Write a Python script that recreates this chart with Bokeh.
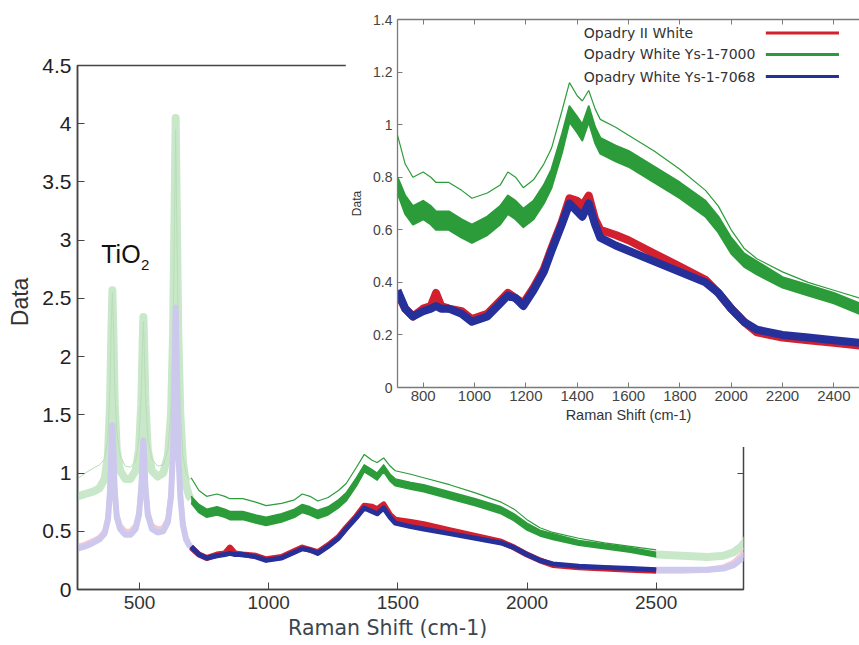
from bokeh.plotting import figure
from bokeh.models import (LinearAxis, FixedTicker, NumeralTickFormatter, Range1d, Label,
                          CustomLabelingPolicy)
from bokeh.embed import file_html
from bokeh.resources import INLINE

# ---------------- data ----------------
# TiO2 region (drawn faded in the main chart)
TIO2_X = [260, 290, 320, 345, 365, 378, 386, 391, 395, 399,
          404, 412, 425, 445, 465, 485, 498, 507, 512, 515,
          518, 523, 532, 548, 570, 592, 610, 622, 630, 636,
          640, 644, 650, 658, 668, 680, 692, 700]
GREEN_TIO2 = [0.80, 0.82, 0.84, 0.87, 0.95, 1.15, 1.6, 2.2, 2.57, 2.2,
              1.6, 1.2, 1.02, 0.95, 0.95, 1.02, 1.2, 1.6, 2.1, 2.34,
              2.1, 1.6, 1.2, 1.02, 0.97, 1.0, 1.15, 1.5, 2.2, 3.3,
              4.05, 3.3, 2.2, 1.5, 1.1, 0.9, 0.8, 0.78]
GREEN_TIO2_TOP = [0.95, 1.0, 1.04, 1.07, 1.12, 1.3, 1.75, 2.3, 2.55, 2.3,
                  1.75, 1.35, 1.15, 1.06, 1.05, 1.1, 1.3, 1.7, 2.1, 2.3,
                  2.1, 1.7, 1.3, 1.12, 1.06, 1.07, 1.2, 1.55, 2.2, 3.2,
                  3.95, 3.2, 2.2, 1.55, 1.15, 1.0, 0.95, 0.95]
RED_TIO2 = [0.37, 0.39, 0.42, 0.45, 0.5, 0.63, 0.88, 1.22, 1.38, 1.22,
            0.88, 0.65, 0.55, 0.5, 0.5, 0.55, 0.67, 0.9, 1.15, 1.26,
            1.15, 0.9, 0.67, 0.55, 0.52, 0.53, 0.61, 0.83, 1.22, 1.82,
            2.36, 1.82, 1.22, 0.83, 0.58, 0.45, 0.39, 0.36]
BLUE_TIO2 = [0.35, 0.37, 0.40, 0.43, 0.48, 0.6, 0.85, 1.2, 1.41, 1.2,
             0.85, 0.62, 0.52, 0.47, 0.47, 0.52, 0.64, 0.88, 1.15, 1.28,
             1.15, 0.88, 0.64, 0.52, 0.49, 0.50, 0.58, 0.8, 1.2, 1.85,
             2.42, 1.85, 1.2, 0.8, 0.55, 0.43, 0.38, 0.37]

# Fingerprint region 700-2500 (main chart and inset)
MID_X = [700, 730, 760, 800, 830, 850, 870, 900, 950, 990,
         1050, 1100, 1130, 1160, 1190, 1230, 1270, 1300, 1340, 1370,
         1400, 1420, 1445, 1470, 1490, 1550, 1600, 1700, 1800, 1900,
         1950, 2000, 2050, 2100, 2200, 2300, 2400, 2500]
# Opadry White Ys-1-7000: band of replicate spectra (upper / lower edge) and the highest replicate
GREEN_MID_HI = [0.80, 0.73, 0.69, 0.71, 0.69, 0.67, 0.67, 0.67, 0.64, 0.62,
                0.65, 0.69, 0.73, 0.71, 0.68, 0.71, 0.77, 0.83, 0.96, 1.07,
                1.03, 1.00, 1.07, 0.99, 0.95, 0.92, 0.90, 0.84, 0.78, 0.71,
                0.65, 0.57, 0.51, 0.48, 0.42, 0.39, 0.36, 0.32]
GREEN_MID_LO = [0.74, 0.66, 0.62, 0.64, 0.62, 0.60, 0.60, 0.60, 0.57, 0.55,
                0.58, 0.62, 0.66, 0.64, 0.61, 0.64, 0.70, 0.76, 0.89, 1.01,
                0.97, 0.94, 1.01, 0.93, 0.89, 0.86, 0.84, 0.78, 0.72, 0.65,
                0.59, 0.51, 0.46, 0.43, 0.38, 0.35, 0.32, 0.28]
GREEN_MID_TOP = [0.96, 0.85, 0.80, 0.82, 0.80, 0.78, 0.78, 0.78, 0.75, 0.72,
                 0.74, 0.77, 0.82, 0.80, 0.76, 0.79, 0.85, 0.91, 1.05, 1.16,
                 1.11, 1.09, 1.13, 1.06, 1.02, 0.99, 0.96, 0.90, 0.83, 0.75,
                 0.69, 0.60, 0.53, 0.49, 0.44, 0.40, 0.37, 0.34]
RED_MID = [0.36, 0.30, 0.27, 0.30, 0.31, 0.36, 0.31, 0.30, 0.29, 0.26,
           0.28, 0.33, 0.36, 0.34, 0.32, 0.38, 0.45, 0.53, 0.63, 0.72,
           0.71, 0.69, 0.73, 0.64, 0.60, 0.58, 0.56, 0.51, 0.46, 0.41,
           0.36, 0.30, 0.25, 0.21, 0.19, 0.18, 0.17, 0.16]
BLUE_MID = [0.37, 0.30, 0.27, 0.29, 0.30, 0.31, 0.30, 0.30, 0.28, 0.25,
            0.27, 0.32, 0.35, 0.34, 0.31, 0.37, 0.44, 0.52, 0.62, 0.70,
            0.67, 0.65, 0.70, 0.62, 0.57, 0.54, 0.52, 0.48, 0.44, 0.40,
            0.36, 0.30, 0.25, 0.22, 0.20, 0.19, 0.18, 0.17]

# High-shift tail (faded)
END_X = [2500, 2600, 2700, 2760, 2800, 2830, 2850, 2870]
GREEN_END = [0.30, 0.29, 0.28, 0.29, 0.32, 0.37, 0.43, 0.50]
RED_END = [0.16, 0.16, 0.17, 0.19, 0.23, 0.29, 0.35, 0.42]
BLUE_END = [0.17, 0.17, 0.17, 0.18, 0.21, 0.26, 0.31, 0.37]

MAIN_Y_TICKS = [0, 0.5, 1, 1.5, 2, 2.5, 3, 3.5, 4, 4.5]
MAIN_X_TICKS = [500, 1000, 1500, 2000, 2500]
INSET_Y_TICKS = [0, 0.2, 0.4, 0.6, 0.8, 1.0, 1.2, 1.4]
INSET_X_TICKS = [800, 1000, 1200, 1400, 1600, 1800, 2000, 2200, 2400]
SERIES_NAMES = ["Opadry II White", "Opadry White Ys-1-7000", "Opadry White Ys-1-7068"]

# ---------------- styles ----------------
GREEN = "#2c9c3a"
RED = "#d2202e"
BLUE = "#26309a"
F_GREEN = "#c9e8c9"
F_RED = "#f1cad7"
F_BLUE = "#cdc8ee"
NBSP = "\u00a0"

NO_LABELS = CustomLabelingPolicy(code="""
    for (const i of indices) {
        indices.unset(i)
    }
    return indices
""")

# ---------------- main chart ----------------
main = figure(width=859, height=645, x_range=Range1d(260, 2838), y_range=Range1d(0, 4.5),
              output_backend="svg", toolbar_location=None,
              min_border_left=77, min_border_right=116, min_border_top=65, min_border_bottom=56,
              outline_line_color="#444444", outline_line_width=1.5)
main.grid.visible = False

ax = main.xaxis[0]
ax.ticker = FixedTicker(ticks=MAIN_X_TICKS)
ax.minor_tick_line_color = None
ax.major_tick_in = 7
ax.major_tick_out = 0
ax.axis_line_color = "#444444"
ax.axis_line_width = 1.5
ax.major_tick_line_color = "#444444"
ax.major_label_text_font = "Liberation Sans"
ax.major_label_text_font_size = "19px"
ax.major_label_text_color = "#333333"
ax.major_label_standoff = 6
ax.axis_label = "Raman Shift (cm-1)" + NBSP * 7
ax.axis_label_text_font = "DejaVu Sans"
ax.axis_label_text_font_size = "20.5px"
ax.axis_label_text_font_style = "normal"
ax.axis_label_text_color = "#3c4650"
ax.axis_label_standoff = 4

ay = main.yaxis[0]
ay.ticker = FixedTicker(ticks=MAIN_Y_TICKS)
ay.formatter = NumeralTickFormatter(format="0.[0]")
ay.minor_tick_line_color = None
ay.major_tick_in = 7
ay.major_tick_out = 0
ay.axis_line_color = "#444444"
ay.axis_line_width = 1.5
ay.major_tick_line_color = "#444444"
ay.major_label_text_font = "Liberation Sans"
ay.major_label_text_font_size = "21px"
ay.major_label_text_color = "#222222"
ay.major_label_standoff = 6
ay.axis_label = NBSP * 8 + "Data"
ay.axis_label_text_font = "Liberation Sans"
ay.axis_label_text_font_size = "23px"
ay.axis_label_text_font_style = "normal"
ay.axis_label_text_color = "#333333"
ay.axis_label_standoff = 6

right_axis = LinearAxis(ticker=FixedTicker(ticks=[1.0]), major_label_policy=NO_LABELS,
                        axis_line_color=None, major_tick_in=6, major_tick_out=0,
                        major_tick_line_color="#444444", minor_tick_line_color=None)
main.add_layout(right_axis, "right")

# faded TiO2 region
main.line(TIO2_X, GREEN_TIO2, line_color=F_GREEN, line_width=8, line_join="round")
main.line(TIO2_X, GREEN_TIO2_TOP, line_color="#b9dcb9", line_width=1)
main.line(TIO2_X, RED_TIO2, line_color=F_RED, line_width=5, line_join="round")
main.line(TIO2_X, BLUE_TIO2, line_color=F_BLUE, line_width=6, line_join="round")
# faded tail
main.line(END_X, GREEN_END, line_color=F_GREEN, line_width=8, line_join="round")
main.line(END_X, RED_END, line_color=F_RED, line_width=6, line_join="round")
main.line(END_X, BLUE_END, line_color=F_BLUE, line_width=6, line_join="round")
# strong fingerprint region
main.varea(x=MID_X, y1=GREEN_MID_LO, y2=GREEN_MID_HI, fill_color=GREEN)
main.line(MID_X, GREEN_MID_HI, line_color=GREEN, line_width=1.5, line_join="round")
main.line(MID_X, GREEN_MID_LO, line_color=GREEN, line_width=1.5, line_join="round")
main.line(MID_X, GREEN_MID_TOP, line_color=GREEN, line_width=1.2)
main.line(MID_X, RED_MID, line_color=RED, line_width=6, line_join="round")
main.line(MID_X, BLUE_MID, line_color=BLUE, line_width=5, line_join="round")

main.add_layout(Label(x=352, y=2.877, text="TiO", text_font="Liberation Sans",
                      text_font_size="25px", text_color="#111111", text_baseline="alphabetic"))
main.add_layout(Label(x=506, y=2.79, text="2", text_font="Liberation Sans",
                      text_font_size="15px", text_color="#111111", text_baseline="alphabetic"))

# ---------------- inset (separate root, overlapping the main chart) ----------------
inset = figure(width=514, height=447, x_range=Range1d(700, 2500), y_range=Range1d(0, 1.4),
               output_backend="svg", toolbar_location=None,
               min_border_left=52, min_border_right=0, min_border_top=19, min_border_bottom=60,
               outline_line_color=None, margin=(-645, 0, 0, 345))
inset.grid.visible = False

bx = inset.xaxis[0]
bx.ticker = FixedTicker(ticks=INSET_X_TICKS)
bx.minor_tick_line_color = None
bx.major_tick_in = 5
bx.major_tick_out = 0
bx.axis_line_color = "#7a7a7a"
bx.axis_line_width = 1.3
bx.major_tick_line_color = "#7a7a7a"
bx.major_label_text_font = "Liberation Sans"
bx.major_label_text_font_size = "15px"
bx.major_label_text_color = "#444444"
bx.major_label_standoff = 3
bx.axis_label = "Raman Shift (cm-1)"
bx.axis_label_text_font = "Liberation Sans"
bx.axis_label_text_font_size = "14.5px"
bx.axis_label_text_font_style = "normal"
bx.axis_label_text_color = "#333333"
bx.axis_label_standoff = 3

by = inset.yaxis[0]
by.ticker = FixedTicker(ticks=INSET_Y_TICKS)
by.formatter = NumeralTickFormatter(format="0.[0]")
by.minor_tick_line_color = None
by.major_tick_in = 5
by.major_tick_out = 0
by.axis_line_color = "#7a7a7a"
by.axis_line_width = 1.3
by.major_tick_line_color = "#7a7a7a"
by.major_label_text_font = "Liberation Sans"
by.major_label_text_font_size = "14px"
by.major_label_text_color = "#444444"
by.major_label_standoff = 5
by.axis_label = "Data"
by.axis_label_text_font = "Liberation Sans"
by.axis_label_text_font_size = "12px"
by.axis_label_text_font_style = "normal"
by.axis_label_text_color = "#333333"
by.axis_label_standoff = 6

top_axis = LinearAxis(ticker=FixedTicker(ticks=INSET_X_TICKS), major_label_policy=NO_LABELS,
                      axis_line_color="#7a7a7a", axis_line_width=1.3, major_tick_in=5, major_tick_out=0,
                      major_tick_line_color="#7a7a7a", minor_tick_line_color=None,
                      major_label_standoff=0)
inset.add_layout(top_axis, "above")

inset.varea(x=MID_X, y1=GREEN_MID_LO, y2=GREEN_MID_HI, fill_color=GREEN)
inset.line(MID_X, GREEN_MID_HI, line_color=GREEN, line_width=2, line_join="round")
inset.line(MID_X, GREEN_MID_LO, line_color=GREEN, line_width=2, line_join="round")
inset.line(MID_X, GREEN_MID_TOP, line_color=GREEN, line_width=1.2)
inset.line(MID_X, RED_MID, line_color=RED, line_width=8, line_join="round")
inset.line(MID_X, BLUE_MID, line_color=BLUE, line_width=8, line_join="round")

# legend (key samples on the right, gnuplot style)
LEG_Y = [1.349, 1.267, 1.183]
LEG_COLORS = [RED, GREEN, BLUE]
for name, yy, col in zip(SERIES_NAMES, LEG_Y, LEG_COLORS):
    inset.add_layout(Label(x=1426, y=yy, text=name, text_font="DejaVu Sans", text_font_size="14px",
                           text_color="#333333", text_baseline="middle"))
    inset.segment(x0=[2135], y0=[yy], x1=[2420], y1=[yy], line_color=col, line_width=3)

open("out.html", "w").write(file_html([main, inset], INLINE))
